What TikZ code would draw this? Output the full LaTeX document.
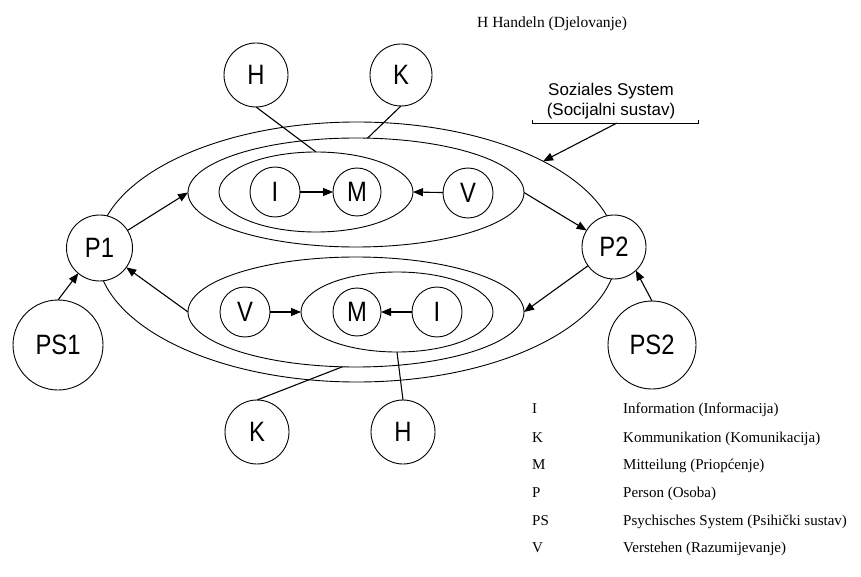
\documentclass[tikz,border=0pt]{standalone}
\usepackage{fontspec}
\setmainfont{Liberation Serif}
\newfontfamily\lab[FakeStretch=0.85]{Liberation Sans}
\newfontfamily\sozfont{Liberation Sans}
\usetikzlibrary{shapes.geometric,arrows.meta}
\tikzset{
  ell/.style={draw, ellipse, inner sep=0pt, outer sep=0pt, line width=0.9pt},
  circ/.style={draw, circle, fill=white, inner sep=0pt, outer sep=0pt, line width=0.9pt,
    font=\lab\fontsize{28}{30}\selectfont},
  conn/.style={line width=1.1pt},
  arr/.style={line width=1.1pt, -{Triangle[length=10pt,width=8pt]}},
  legend/.style={anchor=base west, inner sep=0pt, font=\fontsize{15}{17}\selectfont}
}
\begin{document}
\begin{tikzpicture}[x=1pt,y=-1pt]
\useasboundingbox (0,0) rectangle (861,577);
% ellipses
\node[ell, minimum width=520pt, minimum height=260pt] (soc) at (357,252) {};
\node[ell, minimum width=336pt, minimum height=109pt] (tb) at (356,192.5) {};
\node[ell, minimum width=194pt, minimum height=80pt] (ti) at (316,192) {};
\node[ell, minimum width=336pt, minimum height=110pt] (bb) at (356,312) {};
\node[ell, minimum width=192pt, minimum height=80pt] (bi) at (397,312) {};
% circles
\node[circ, minimum size=50pt] (I1) at (275,192) {I};
\node[circ, minimum size=48pt] (M1) at (357,192) {M};
\node[circ, minimum size=50pt] (V1) at (468,193) {V};
\node[circ, minimum size=64pt] (H1) at (256,75) {H};
\node[circ, minimum size=62pt] (K1) at (401,75) {K};
\node[circ, minimum size=66pt] (P1) at (99.5,248) {P1};
\node[circ, minimum size=64pt] (P2) at (614,247) {P2};
\node[circ, minimum size=90pt] (PS1) at (58,345) {PS1};
\node[circ, minimum size=88pt] (PS2) at (652,345) {PS2};
\node[circ, minimum size=50pt] (V2) at (245,312) {V};
\node[circ, minimum size=48pt] (M2) at (357,312) {M};
\node[circ, minimum size=50pt] (I2) at (437,312) {I};
\node[circ, minimum size=64pt] (K2) at (257,432) {K};
\node[circ, minimum size=64pt] (H2) at (403,432) {H};
% plain connectors
\draw[conn] (H1.south) -- (ti.north);
\draw[conn] (K1.south) -- (tb.78);
\draw[conn] (K2.north) -- (bb.256);
\draw[conn] (H2.north) -- (bi.south);
% arrows
\draw[arr] (I1) -- (M1);
\draw[arr] (V1) -- (ti.east);
\draw[arr] (P1) -- (tb.west);
\draw[arr] (tb.east) -- (P2);
\draw[arr] (P2) -- (bb.east);
\draw[arr] (bb.west) -- (P1);
\draw[arr] (V2) -- (bi.west);
\draw[arr] (I2) -- (M2);
\draw[arr] (PS1.north) -- (P1.230);
\draw[arr] (PS2.north) -- (P2.313);
% social system label
\node[align=center, inner sep=0pt, font=\sozfont\fontsize{17}{20}\selectfont] (soz) at (611,101) {Soziales System\\(Socijalni sustav)};
\coordinate (brl) at (532,123);
\coordinate (brr) at (698,123);
\coordinate (brm) at (617,123);
\draw[line width=0.9pt] ([yshift=3pt]brl) -- (brl) -- (brr) -- ([yshift=3pt]brr);
\draw[arr] (brm) -- (soc.26);
% top text
\node[anchor=base west, inner sep=0pt, font=\fontsize{15.5}{18}\selectfont] (htext) at (477,28) {H Handeln (Djelovanje)};
% legend
\node[legend] (lI) at (532,413) {I};
\node[legend] (lK) at (532,442) {K};
\node[legend] (lM) at (532,469) {M};
\node[legend] (lP) at (532,497) {P};
\node[legend] (lPS) at (532,525) {PS};
\node[legend] (lV) at (532,552) {V};
\node[legend] (dI) at (623,413) {Information (Informacija)};
\node[legend] (dK) at (623,442) {Kommunikation (Komunikacija)};
\node[legend] (dM) at (623,469) {Mitteilung (Priopćenje)};
\node[legend] (dP) at (623,497) {Person (Osoba)};
\node[legend] (dPS) at (623,525) {Psychisches System (Psihički sustav)};
\node[legend] (dV) at (623,552) {Verstehen (Razumijevanje)};
\end{tikzpicture}
\end{document}
